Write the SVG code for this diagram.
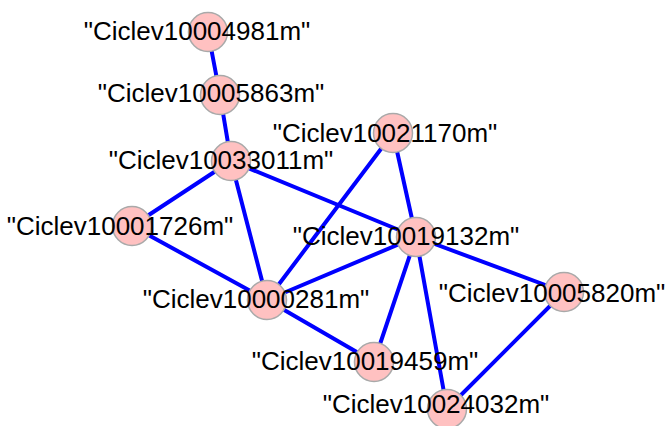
<svg xmlns="http://www.w3.org/2000/svg" width="669" height="426" viewBox="0 0 669 426">
  <style>
    .edge { stroke: #0000ff; stroke-width: 4; stroke-linecap: round; }
    .node circle { fill: #ffc1c1; stroke: #a9a9a9; stroke-width: 1.5; }
    .node text { font-family: "Liberation Sans", Arial, sans-serif; font-size: 26px; fill: #000; text-anchor: middle; }
  </style>
  <rect width="669" height="426" fill="#ffffff"/>
  <g id="connectors">
    <line class="edge" x1="208" y1="32" x2="220" y2="95"/>
    <line class="edge" x1="220" y1="95" x2="231" y2="161"/>
    <line class="edge" x1="231" y1="161" x2="132" y2="226"/>
    <line class="edge" x1="231" y1="161" x2="267" y2="300"/>
    <line class="edge" x1="231" y1="161" x2="416" y2="237"/>
    <line class="edge" x1="393" y1="133" x2="267" y2="300"/>
    <line class="edge" x1="393" y1="133" x2="416" y2="237"/>
    <line class="edge" x1="132" y1="226" x2="267" y2="300"/>
    <line class="edge" x1="416" y1="237" x2="267" y2="300"/>
    <line class="edge" x1="416" y1="237" x2="374" y2="362"/>
    <line class="edge" x1="416" y1="237" x2="447" y2="409"/>
    <line class="edge" x1="416" y1="237" x2="564" y2="292"/>
    <line class="edge" x1="267" y1="300" x2="374" y2="362"/>
    <line class="edge" x1="564" y1="292" x2="447" y2="409"/>
  </g>
  <g id="n4981" class="node">
    <circle cx="208" cy="32" r="19.5"/>
    <text x="197" y="40">"Ciclev10004981m"</text>
  </g>
  <g id="n5863" class="node">
    <circle cx="220" cy="95" r="19.5"/>
    <text x="211" y="102">"Ciclev10005863m"</text>
  </g>
  <g id="n33011" class="node">
    <circle cx="231" cy="161" r="19.5"/>
    <text x="221" y="169">"Ciclev10033011m"</text>
  </g>
  <g id="n21170" class="node">
    <circle cx="393" cy="133" r="19.5"/>
    <text x="385" y="142">"Ciclev10021170m"</text>
  </g>
  <g id="n1726" class="node">
    <circle cx="132" cy="226" r="19.5"/>
    <text x="120" y="235">"Ciclev10001726m"</text>
  </g>
  <g id="n19132" class="node">
    <circle cx="416" cy="237" r="19.5"/>
    <text x="406" y="245">"Ciclev10019132m"</text>
  </g>
  <g id="n281" class="node">
    <circle cx="267" cy="300" r="19.5"/>
    <text x="256" y="308">"Ciclev10000281m"</text>
  </g>
  <g id="n5820" class="node">
    <circle cx="564" cy="292" r="19.5"/>
    <text x="552" y="302">"Ciclev10005820m"</text>
  </g>
  <g id="n19459" class="node">
    <circle cx="374" cy="362" r="19.5"/>
    <text x="365" y="370">"Ciclev10019459m"</text>
  </g>
  <g id="n24032" class="node">
    <circle cx="447" cy="409" r="19.5"/>
    <text x="436" y="413">"Ciclev10024032m"</text>
  </g>
</svg>
